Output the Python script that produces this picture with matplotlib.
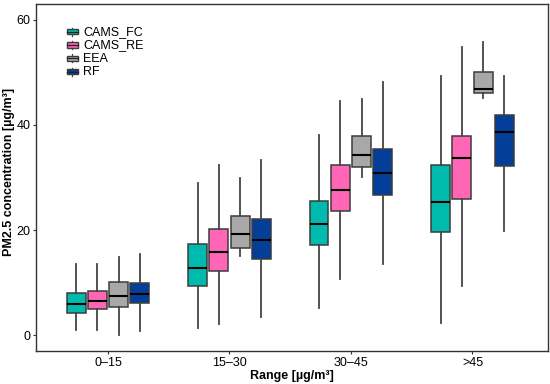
import matplotlib
matplotlib.use("Agg")
from matplotlib import pyplot as plt
from matplotlib.patches import Patch, Rectangle
from matplotlib.lines import Line2D
from matplotlib.legend_handler import HandlerBase
import numpy as np

plt.rcParams['font.family'] = ['Liberation Sans', 'DejaVu Sans']

ranges = ["0\u201315", "15\u201330", "30\u201345", ">45"]
models = ["CAMS_FC", "CAMS_RE", "EEA", "RF"]
colors = ["#00BBAD", "#FF66B5", "#A8A8A8", "#033E98"]

# per model: one value per range (whisker low, q1, median, q3, whisker high)
whislo = {
    "CAMS_FC": [0.9, 1.4, 5.1, 2.3],
    "CAMS_RE": [0.9, 2.2, 10.6, 9.4],
    "EEA":     [0.0, 15.0, 30.0, 45.1],
    "RF":      [0.8, 3.4, 13.6, 19.8],
}
q1 = {
    "CAMS_FC": [4.3, 9.4, 17.1, 19.6],
    "CAMS_RE": [4.9, 12.2, 23.7, 25.9],
    "EEA":     [5.3, 16.6, 31.9, 46.0],
    "RF":      [6.2, 14.5, 26.7, 32.2],
}
med = {
    "CAMS_FC": [6.0, 12.8, 21.1, 25.4],
    "CAMS_RE": [6.5, 15.9, 27.7, 33.6],
    "EEA":     [7.5, 19.2, 34.3, 46.9],
    "RF":      [7.8, 18.1, 30.9, 38.6],
}
q3 = {
    "CAMS_FC": [8.1, 17.3, 25.5, 32.4],
    "CAMS_RE": [8.4, 20.2, 32.4, 37.8],
    "EEA":     [10.1, 22.7, 37.8, 50.0],
    "RF":      [9.9, 22.0, 35.4, 41.9],
}
whishi = {
    "CAMS_FC": [13.5, 29.0, 38.0, 49.2],
    "CAMS_RE": [13.5, 32.4, 44.6, 54.7],
    "EEA":     [14.9, 29.9, 45.0, 55.8],
    "RF":      [15.5, 33.3, 48.1, 49.2],
}


# legend key drawn like a little boxplot (box, median, whisker stubs)
class BoxKey(HandlerBase):
    def create_artists(self, legend, orig, xd, yd, w, h, fontsize, trans):
        cx = xd + w / 2.0
        cy = yd + h * 0.38
        top = Line2D([cx, cx], [cy + h * 0.3, cy + h * 0.45], color="#444444", lw=0.9, transform=trans)
        bot = Line2D([cx, cx], [cy - h * 0.45, cy - h * 0.3], color="#444444", lw=0.9, transform=trans)
        r = Rectangle((xd, cy - h * 0.3), w, h * 0.6, facecolor=orig.get_facecolor(),
                      edgecolor="#3c3c3c", lw=1.0, transform=trans)
        m = Line2D([xd, xd + w], [cy, cy], color="#222222", lw=0.9, transform=trans)
        return [top, bot, r, m]


fig = plt.figure(figsize=(5.5, 3.84), dpi=100)
ax = fig.add_axes([0.066, 0.086, 0.93, 0.904])

x = np.arange(1, len(ranges) + 1)
step = 0.175
for i, m in enumerate(models):
    stats = []
    for j in range(len(ranges)):
        stats.append(dict(whislo=whislo[m][j], q1=q1[m][j], med=med[m][j],
                          q3=q3[m][j], whishi=whishi[m][j], fliers=[]))
    pos = x + (i - 1.5) * step
    ax.bxp(stats, positions=pos, widths=0.155, patch_artist=True,
           showcaps=False, showfliers=False,
           boxprops=dict(facecolor=colors[i], edgecolor="#3c3c3c", linewidth=1.1),
           medianprops=dict(color="black", linewidth=1.5),
           whiskerprops=dict(color="#444444", linewidth=1.3),
           zorder=2)

ax.set_xlim(0.41, 4.62)
ax.set_ylim(-3.0, 63.0)
ax.set_xticks(x)
ax.set_xticklabels(ranges)
ax.set_yticks([0, 20, 40, 60])
ax.tick_params(axis="both", labelsize=9, length=2.5, pad=1.5, color="#333333", labelcolor="black")
for s in ax.spines.values():
    s.set_color("#333333")
    s.set_linewidth(1.0)

ax.set_xlabel("Range [\u00b5g/m\u00b3]", fontsize=9, fontweight="bold", labelpad=1)
ax.set_ylabel("PM2.5 concentration [\u00b5g/m\u00b3]", fontsize=9, fontweight="bold")
ax.yaxis.set_label_coords(-0.042, 0.517)

handles = [Patch(facecolor=c, edgecolor="#3c3c3c", label=m) for c, m in zip(colors, models)]
ax.legend(handles=handles, loc="upper left", bbox_to_anchor=(0.05, 0.95), frameon=False,
          fontsize=9, handlelength=0.85, handleheight=0.7, handletextpad=0.45,
          labelspacing=0.1, borderaxespad=0,
          handler_map={Patch: BoxKey()})

fig.savefig("out.png", dpi=100)
